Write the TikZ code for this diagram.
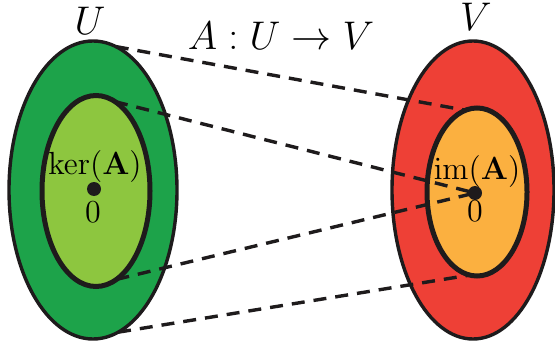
\RequirePackage{fix-cm}
\documentclass[tikz,border=0pt]{standalone}
\usetikzlibrary{shapes.geometric}
\definecolor{darkgreen}{HTML}{1DA34A}
\definecolor{lightgreen}{HTML}{8DC63F}
\definecolor{redset}{HTML}{EE4036}
\definecolor{orangeset}{HTML}{FBB040}
\definecolor{inkblack}{HTML}{1E1B1C}
\begin{document}
\begin{tikzpicture}[x=0.5pt,y=-0.5pt,
  outerset/.style={ellipse, draw=inkblack, line width=1.7pt, inner sep=0pt, outer sep=0pt},
  innerset/.style={ellipse, draw=inkblack, line width=2.5pt, inner sep=0pt, outer sep=0pt},
  zerodot/.style={circle, fill=inkblack, inner sep=0pt, minimum size=7pt},
  maplink/.style={draw=inkblack, line width=1.7pt, dash pattern=on 6.5pt off 4.5pt},
  biglabel/.style={inner sep=0pt, font=\fontsize{20}{24}\selectfont},
  smalllabel/.style={inner sep=0pt, font=\fontsize{16}{19}\selectfont}]
\useasboundingbox (0,0) rectangle (555,347);
\node[outerset, fill=darkgreen, minimum width=84pt, minimum height=149pt] (UL) at (93,190) {};
\node[innerset, fill=lightgreen, minimum width=54pt, minimum height=95.5pt] (KL) at (96,191) {};
\node[outerset, fill=redset, minimum width=81pt, minimum height=149pt] (VR) at (473,190) {};
\node[innerset, fill=orangeset, minimum width=50pt, minimum height=84pt] (IR) at (477,192) {};
\node[zerodot] (dotL) at (94,189) {};
\node[zerodot] (dotR) at (475,193) {};
\node[smalllabel] (kerlab) at (95,167) {$\ker(\mathbf{A})$};
\node[smalllabel] (zeroL) at (93,212) {$0$};
\node[smalllabel] (imlab) at (477,171) {$\mathrm{im}(\mathbf{A})$};
\node[smalllabel] (zeroR) at (475,211) {$0$};
\node[biglabel] (Ulab) at (90,21) {$U$};
\node[biglabel] (Vlab) at (476,17) {$V$};
\node[biglabel] (maplab) at (281,36) {$A:U\to V$};
\draw[maplink] (UL.81) -- (IR.98);
\draw[maplink] (KL.78) -- (dotR.center);
\draw[maplink] (KL.-77) -- (dotR.center);
\draw[maplink] (UL.-80) -- (IR.-95);
\end{tikzpicture}
\end{document}
